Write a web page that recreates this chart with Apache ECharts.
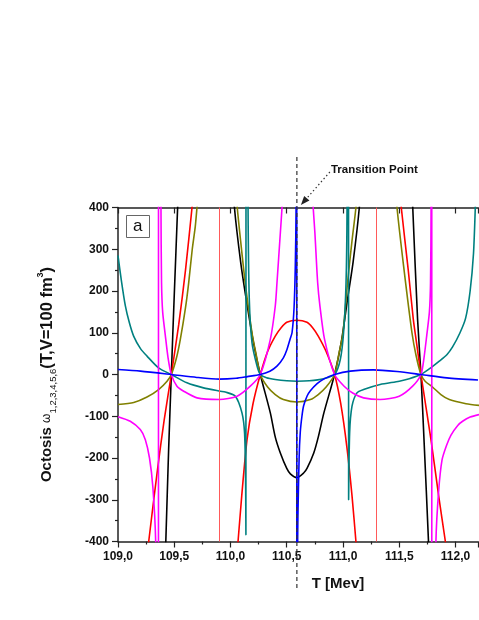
<!DOCTYPE html>
<html>
<head>
<meta charset="utf-8">
<script src="https://cdn.jsdelivr.net/npm/echarts@6/dist/echarts.min.js"></script>
<style>
  html, body { margin: 0; padding: 0; background: #fff; }
  #chart { width: 479px; height: 620px; }
</style>
</head>
<body>
<div id="chart"></div>
<script>
// values, T in MeV, curves clipped at +-400
const transitionT = 110.59;
const redPoles = [109.9, 111.3];

const blackData = [
  [109.418, -450], [109.425, -400], [109.45, -180], [109.474, 0], [109.5, 190], [109.53, 400], [109.535, 450], [109.8, '-'],
  [110.03, 450], [110.035, 400], [110.09, 270], [110.14, 180], [110.205, 75], [110.265, 0], [110.354, -92], [110.398, -150],
  [110.443, -188], [110.5, -225], [110.532, -238], [110.59, -247], [110.65, -236], [110.68, -225], [110.74, -188],
  [110.78, -150], [110.83, -92], [110.925, 0], [110.985, 78], [111.04, 180], [111.09, 270], [111.145, 400], [111.15, 450], [111.4, '-'],
  [111.615, 450], [111.62, 400], [111.663, 132], [111.693, 0], [111.72, -156], [111.76, -400], [111.765, -450]
];
const redData = [
  [109.25, -460], [109.273, -400], [109.35, -230], [109.41, -110], [109.474, 0], [109.54, 120], [109.6, 250], [109.658, 400], [109.68, 460], [109.9, '-'],
  [110.045, -460], [110.067, -400], [110.1, -290], [110.147, -156], [110.2, -70], [110.265, 0], [110.33, 55], [110.398, 92],
  [110.45, 112], [110.5, 125], [110.59, 130], [110.68, 125], [110.73, 112], [110.78, 92], [110.85, 55], [110.925, 0],
  [110.98, -70], [111.035, -175], [111.08, -290], [111.115, -400], [111.135, -460], [111.3, '-'],
  [111.5, 460], [111.518, 400], [111.58, 250], [111.625, 132], [111.65, 83], [111.693, 0], [111.782, -156], [111.85, -290], [111.91, -400], [111.93, -440]
];
const oliveData = [
  [109.0, -72], [109.14, -67], [109.258, -54], [109.361, -36], [109.436, -16], [109.474, 0], [109.52, 40], [109.554, 84],
  [109.6, 160], [109.628, 219], [109.66, 300], [109.687, 355], [109.702, 400], [109.72, 460], [109.9, '-'],
  [110.045, 460], [110.06, 400], [110.09, 320], [110.131, 219], [110.191, 100], [110.23, 45], [110.265, 0], [110.33, -30],
  [110.398, -48], [110.47, -60], [110.59, -66], [110.71, -60], [110.78, -48], [110.85, -30], [110.925, 0], [110.96, 45],
  [111.0, 100], [111.04, 219], [111.08, 320], [111.115, 400], [111.13, 460], [111.3, '-'],
  [111.465, 460], [111.48, 400], [111.539, 259], [111.613, 100], [111.65, 45], [111.693, 0], [111.73, -16], [111.796, -30],
  [111.87, -48], [111.945, -60], [112.093, -70], [112.21, -74]
];
const tealData = [
  [109.0, 285], [109.03, 225], [109.065, 165], [109.1, 125], [109.139, 92], [109.2, 62], [109.258, 44], [109.36, 16],
  [109.474, 0], [109.613, -20], [109.76, -32], [109.91, -40], [109.954, -42], [110.043, -52], [110.102, -92], [110.125, -140],
  [110.134, -250], [110.137, -384], [110.142, 6000], [110.15, 900], [110.156, 400], [110.167, 180], [110.191, 76], [110.236, 20],
  [110.265, 0], [110.32, -8], [110.398, -12], [110.5, -15], [110.59, -16], [110.7, -15], [110.828, -10], [110.925, 0],
  [110.976, 36], [111.005, 100], [111.027, 220], [111.036, 400], [111.04, 900], [111.045, 6000], [111.05, -300], [111.059, -140],
  [111.08, -76], [111.124, -44], [111.183, -36], [111.33, -24], [111.5, -16], [111.589, -10], [111.693, 0], [111.78, 16],
  [111.856, 32], [111.925, 48], [111.974, 66], [112.04, 100], [112.09, 135], [112.13, 200], [112.16, 290], [112.176, 400], [112.19, 520]
];
const magentaData = [
  [109.0, -101], [109.109, -112], [109.198, -132], [109.243, -156], [109.28, -200], [109.31, -270], [109.335, -400], [109.35, -700],
  [109.358, -6000], [109.362, 6000], [109.372, 1200], [109.382, 400], [109.387, 220], [109.397, 150], [109.42, 95], [109.445, 40],
  [109.474, 0], [109.524, -28], [109.584, -40], [109.702, -56], [109.9, -60], [110.058, -52], [110.176, -28], [110.265, 0],
  [110.354, 84], [110.398, 164], [110.413, 219], [110.443, 339], [110.458, 400], [110.47, 470], [110.6, '-'],
  [110.72, 470], [110.735, 400], [110.75, 340], [110.775, 219], [110.795, 164], [110.836, 84], [110.925, 0], [111.01, -28],
  [111.09, -45], [111.183, -56], [111.33, -60], [111.5, -52], [111.619, -28], [111.693, 0], [111.72, 40], [111.745, 95],
  [111.768, 150], [111.778, 220], [111.783, 400], [111.786, 1200], [111.788, 6000], [111.792, -6000], [111.808, -800],
  [111.826, -400], [111.85, -280], [111.88, -205], [111.92, -170], [111.96, -145], [112.02, -122], [112.063, -112], [112.13, -102], [112.21, -96]
];
const blueData = [
  [109.0, 12], [109.2, 8], [109.474, 0], [109.7, -7], [109.9, -11], [110.05, -9], [110.15, -5], [110.265, 0], [110.35, 8],
  [110.413, 20], [110.47, 40], [110.502, 60], [110.53, 85], [110.547, 100], [110.565, 160], [110.576, 259], [110.583, 400],
  [110.588, 1500], [110.5905, -1500], [110.597, -400], [110.61, -200], [110.62, -139], [110.635, -100], [110.65, -75],
  [110.68, -52], [110.71, -39], [110.77, -22], [110.828, -11], [110.925, 0], [111.065, 8], [111.27, 11], [111.48, 7],
  [111.693, 0], [111.924, -8], [112.2, -13]
];

const font = 'Arial, "Liberation Sans", sans-serif';
const chart = echarts.init(document.getElementById("chart"));

function curve(data, color) {
  return {
    type: "line",
    data: data,
    showSymbol: false,
    clip: true,
    connectNulls: false,
    smooth: 0.25,
    lineStyle: { color: color, width: 1.6 },
    itemStyle: { color: color },
    animation: false
  };
}

const redSeries = curve(redData, "#ff0000");
redSeries.markLine = {
  silent: true,
  symbol: "none",
  label: { show: false },
  lineStyle: { color: "#ff5a5a", width: 1, type: "solid" },
  data: redPoles.map((p) => ({ xAxis: p }))
};

chart.setOption({
  animation: false,
  backgroundColor: "#fff",
  title: {
    text: "a",
    left: 126,
    top: 215,
    padding: [3, 7, 3, 7],
    borderColor: "#666",
    borderWidth: 1,
    textStyle: { fontSize: 17, fontWeight: "normal", fontFamily: font, color: "#111" }
  },
  grid: { left: 118, right: 1, top: 207.5, bottom: 78.5 },
  xAxis: [
    {
      type: "value",
      min: 109,
      max: 112.2,
      interval: 0.5,
      name: "T [Mev]",
      nameLocation: "middle",
      nameGap: 35,
      nameTextStyle: { fontSize: 15, fontWeight: "bold", fontFamily: font, color: "#111", padding: [0, 0, 0, 80] },
      axisLine: { onZero: false, lineStyle: { color: "#222", width: 1.5 } },
      axisTick: { inside: false, length: 6, lineStyle: { color: "#222", width: 1.2 } },
      minorTick: { show: true, splitNumber: 2, length: 3, lineStyle: { color: "#222", width: 1.2 } },
      axisLabel: {
        margin: 9,
        fontSize: 12,
        fontWeight: "bold",
        fontFamily: font,
        color: "#111",
        formatter: (v) => v.toFixed(1).replace(".", ",")
      },
      splitLine: { show: false }
    },
    {
      type: "value",
      position: "top",
      min: 109,
      max: 112.2,
      interval: 0.5,
      axisLine: { onZero: false, lineStyle: { color: "#222", width: 1.5 } },
      axisTick: { inside: true, length: 6, lineStyle: { color: "#222", width: 1.2 } },
      axisLabel: { show: false },
      splitLine: { show: false }
    }
  ],
  yAxis: {
    type: "value",
    min: -400,
    max: 400,
    interval: 100,
    name: "{b|Octosis }{w|ω}{s|1,2,3,4,5,6}{c|(T,V=100 fm}{p|3}{c|)}",
    nameLocation: "middle",
    nameRotate: 90,
    nameGap: 60,
    nameTextStyle: {
      fontFamily: font,
      color: "#111",
      rich: {
        b: { fontSize: 15, fontWeight: "bold", fontFamily: font, color: "#111", lineHeight: 22 },
        c: { fontSize: 16.5, fontWeight: "bold", fontFamily: font, color: "#111", lineHeight: 22 },
        w: { fontSize: 12, fontFamily: font, color: "#111", lineHeight: 22 },
        s: { fontSize: 9.5, fontFamily: font, color: "#111", lineHeight: 10, verticalAlign: "bottom" },
        p: { fontSize: 9, fontWeight: "bold", fontFamily: font, color: "#111", lineHeight: 10, verticalAlign: "top" }
      }
    },
    axisLine: { show: true, onZero: false, lineStyle: { color: "#222", width: 1.5 } },
    axisTick: { inside: false, length: 6, lineStyle: { color: "#222", width: 1.2 } },
    minorTick: { show: true, splitNumber: 2, length: 3, lineStyle: { color: "#222", width: 1.2 } },
    axisLabel: { margin: 9, fontSize: 12, fontWeight: "bold", fontFamily: font, color: "#111" },
    splitLine: { show: false }
  },
  series: [
    curve(blackData, "#000000"),
    redSeries,
    curve(oliveData, "#808000"),
    curve(tealData, "#008080"),
    curve(magentaData, "#ff00ff"),
    curve(blueData, "#0000ff")
  ]
});

// transition point marker: dashed vertical line + dotted arrow + label
const xp = chart.convertToPixel({ xAxisIndex: 0 }, transitionT);
const tip = [xp + 4, 205];
const tail = [xp + 33, 172];
const dx = tail[0] - tip[0], dy = tail[1] - tip[1];
const len = Math.sqrt(dx * dx + dy * dy);
const ux = dx / len, uy = dy / len;
const head = [
  tip,
  [tip[0] + ux * 9 - uy * 3.5, tip[1] + uy * 9 + ux * 3.5],
  [tip[0] + ux * 9 + uy * 3.5, tip[1] + uy * 9 - ux * 3.5]
];

chart.setOption({
  graphic: [
    {
      type: "line",
      silent: true,
      z: 100,
      shape: { x1: xp, y1: 157, x2: xp, y2: 590 },
      style: { stroke: "#333", lineWidth: 1.2, lineDash: [4, 3] }
    },
    {
      type: "line",
      silent: true,
      z: 100,
      shape: { x1: tail[0], y1: tail[1], x2: tip[0] + ux * 8, y2: tip[1] + uy * 8 },
      style: { stroke: "#333", lineWidth: 1.2, lineDash: [1.5, 2.5] }
    },
    {
      type: "polygon",
      silent: true,
      z: 100,
      shape: { points: head },
      style: { fill: "#222" }
    },
    {
      type: "text",
      silent: true,
      z: 100,
      left: xp + 34,
      top: 164,
      style: { text: "Transition Point", font: "bold 11.5px " + font, fill: "#111" }
    }
  ]
});
</script>
</body>
</html>
